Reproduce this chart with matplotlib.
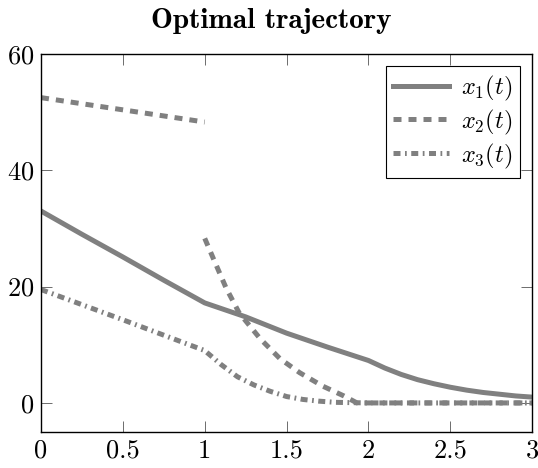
import numpy as np
import matplotlib

matplotlib.use("Agg")
import matplotlib.pyplot as plt  # noqa: E402

plt.rcParams["mathtext.fontset"] = "cm"
plt.rcParams["font.family"] = ["cmr10", "DejaVu Serif"]
plt.rcParams["axes.formatter.use_mathtext"] = True

nan = np.nan
t1 = [0, 0.25, 0.5, 0.75, 1, 1.25, 1.5, 1.75, 2, 2.1, 2.2, 2.3, 2.4, 2.5, 2.6, 2.7, 2.8, 2.9, 3]
x1 = [33.0, 29.0, 25.1, 21.1, 17.2, 14.8, 12.0, 9.6, 7.3, 6.0, 4.9, 4.0, 3.3, 2.7, 2.2, 1.8, 1.5, 1.2, 1.0]

# x2 jumps at t = 1
t2 = [0, 0.5, 1, nan, 1, 1.05, 1.13, 1.21, 1.34, 1.46, 1.58, 1.72, 1.85, 1.93, 2, 3]
x2 = [52.5, 50.4, 48.3, nan, 28.3, 25.0, 19.8, 15.5, 11.0, 7.6, 5.2, 2.9, 1.2, 0.0, 0.0, 0.0]

t3 = [0, 0.5, 1, 1.1, 1.2, 1.3, 1.4, 1.5, 1.6, 1.7, 1.8, 2, 3]
x3 = [19.5, 14.3, 9.0, 6.6, 4.5, 3.1, 2.0, 1.1, 0.6, 0.3, 0.1, 0.0, 0.0]

xticks = [0, 0.5, 1, 1.5, 2, 2.5, 3]
xticklabels = ["0", "0.5", "1", "1.5", "2", "2.5", "3"]
yticks = [0, 20, 40, 60]

fig = plt.figure(figsize=(5.38, 4.68), dpi=100)
ax = fig.add_axes([0.0762, 0.0769, 0.913, 0.8077])

gray = "#808080"
lw = 3.6
ax.plot(t1, x1, color=gray, lw=lw, label=r"$x_1(t)$")
ax.plot(t2, x2, color=gray, lw=lw, ls=(0, (1.6, 1.4)), label=r"$x_2(t)$")
ax.plot(t3, x3, color=gray, lw=lw, ls=(0, (1.4, 0.9, 0.35, 0.9)), label=r"$x_3(t)$")

ax.set_xlim(0, 3)
ax.set_ylim(-5, 60)
ax.set_xticks(xticks)
ax.set_xticklabels(xticklabels)
ax.set_yticks(yticks)
ax.tick_params(direction="in", length=8, width=0.6, color="#555555",
               top=True, right=True, labelsize=19, pad=5)
for s in ax.spines.values():
    s.set_linewidth(1.0)

leg = ax.legend(loc="upper right", fontsize=17.5, handlelength=2.3,
                fancybox=False, edgecolor="black", framealpha=1,
                borderpad=0.3, labelspacing=0.2, handletextpad=0.5,
                borderaxespad=0.5)
leg.get_frame().set_linewidth(0.8)

fig.text(0.505, 0.955, "Optimal trajectory", ha="center", va="center",
         fontsize=21, family=["cmb10", "DejaVu Serif"])

fig.savefig("out.png", dpi=100)
